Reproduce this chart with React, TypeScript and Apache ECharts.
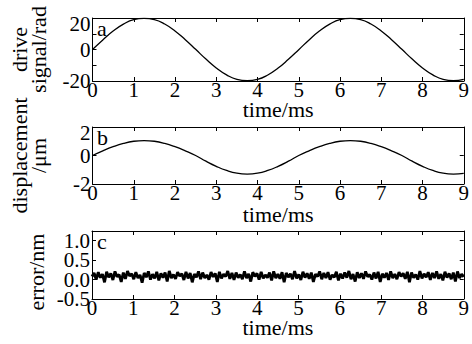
import React, { useEffect, useRef } from "react";
import * as echarts from "echarts";

const FONT = "'Liberation Serif', 'Times New Roman', serif";

// time samples (ms) for panels a and b
const timeMs = [
  0, 0.25, 0.5, 0.75, 1, 1.25, 1.5, 1.75, 2, 2.25, 2.5, 2.75, 3, 3.25, 3.5, 3.75, 4, 4.25, 4.5,
  4.75, 5, 5.25, 5.5, 5.75, 6, 6.25, 6.5, 6.75, 7, 7.25, 7.5, 7.75, 8, 8.25, 8.5, 8.75, 9,
];

// panel a: drive signal (rad)
const driveSignal = [
  0, 6.1, 11.7, 16.1, 19.0, 19.8, 19.0, 16.2, 11.8, 6.2, 0.1, -6.1, -11.7, -16.1, -19.0, -19.8,
  -19.0, -16.2, -11.8, -6.2, -0.1, 6.1, 11.7, 16.1, 19.0, 19.8, 19.0, 16.2, 11.8, 6.2, 0.1, -6.1,
  -11.7, -16.1, -19.0, -19.8, -19.0,
];

// panel b: displacement (um)
const displacement = [
  0, 0.33, 0.62, 0.85, 1.0, 1.05, 1.0, 0.85, 0.62, 0.33, 0, -0.4, -0.76, -1.05, -1.24, -1.3, -1.24,
  -1.05, -0.76, -0.4, 0, 0.33, 0.62, 0.85, 1.0, 1.05, 1.0, 0.85, 0.62, 0.33, 0, -0.4, -0.76, -1.05,
  -1.24, -1.3, -1.26,
];

// panel c: error (nm), dense readings across 0..9 ms
const errorNm = [
  0.08, 0.17, 0.0, 0.19, 0.05, 0.14, -0.07, 0.2, 0.06, 0.16, -0.01, 0.21, 0.07, 0.13, -0.06, 0.18,
  0.02, 0.22, 0.09, 0.15, 0.01, 0.19, 0.04, 0.12, -0.08, 0.17, 0.06, 0.21, 0.0, 0.14, 0.03, 0.2, -0.02,
  0.16, 0.05, 0.18, -0.05, 0.22, 0.04, 0.13, 0.02, 0.19, 0.09, 0.15, -0.01, 0.2, 0.03, 0.17, -0.07,
  0.14, 0.06, 0.21, 0.01, 0.18, 0.04, 0.12, 0.0, 0.19, 0.07, 0.16, -0.06, 0.2, 0.03, 0.14, 0.08, 0.22,
  0.02, 0.17, -0.01, 0.18, 0.05, 0.13, 0.01, 0.21, 0.04, 0.15, -0.05, 0.19, 0.08, 0.16, 0.0, 0.2,
  0.03, 0.12, 0.05, 0.18, -0.02, 0.21, 0.04, 0.14, 0.02, 0.19, -0.07, 0.17, 0.06, 0.15, 0.01, 0.22, 0.03,
  0.13, -0.01, 0.2, 0.05, 0.16, 0.02, 0.18, -0.06, 0.14, 0.08, 0.21, 0.01, 0.17, 0.04, 0.19, 0.0,
  0.12, 0.06, 0.2, -0.02, 0.15, 0.03, 0.18, 0.05, 0.22, 0.01, 0.14, -0.05, 0.19, 0.04, 0.16, 0.02, 0.21,
  0.07, 0.13, 0.0, 0.18, 0.03, 0.2, -0.06, 0.15, 0.05, 0.17, -0.01, 0.21, 0.04, 0.14, 0.01, 0.19,
  0.08, 0.16, 0.02, 0.2, -0.07, 0.18, 0.05, 0.13, 0.0, 0.22, 0.03, 0.15, 0.06, 0.19, -0.01, 0.17,
  0.04, 0.21, 0.02, 0.14, -0.02, 0.2, 0.05, 0.16, 0.01, 0.18, -0.05, 0.21, 0.04, 0.14, 0.07,
];

const yLabelsA = [-20, 0, 20];
const yLabelsB = [-2, 0, 2];
// panel c labels are split over two label layers so neighbours never collide
const yLabelsC1 = [-0.5, 0.5];
const yLabelsC2 = [0, 1.0];

const panels = [
  {
    letter: "a", top: 18, height: 63, min: -20, max: 20, interval: 10, labelSets: [yLabelsA],
    topLabel: 20, digits: 0, name: "drive\nsignal/rad", nameGap: 45, namePad: [0, 0, 0, 0], xNameGap: 20,
  },
  {
    letter: "b", top: 127, height: 57, min: -2, max: 2, interval: 2, labelSets: [yLabelsB],
    topLabel: 2, digits: 0, name: "displacement\n/\u03bcm", nameGap: 45, namePad: [0, 0, 0, 0], xNameGap: 22,
  },
  {
    letter: "c", top: 231, height: 68, min: -0.5, max: 1.25, interval: 0.5, labelSets: [yLabelsC1, yLabelsC2],
    topLabel: null, digits: 1, name: "error/nm", nameGap: 46, namePad: [0, 14, 0, 0], xNameGap: 20,
  },
];

const LEFT = 92;
const WIDTH = 376;
const FS = 22;
const TICK_FS = 21;

export default function App() {
  const ref = useRef<HTMLDivElement>(null);
  useEffect(() => {
    document.body.style.margin = "0";
    if (!ref.current) return;
    const chart = echarts.init(ref.current, null, { renderer: "svg" });
    const grid: any[] = [];
    const xAxis: any[] = [];
    const yAxis: any[] = [];
    const graphic: any[] = [];
    const seriesAxes: { x: number; y: number }[] = [];
    panels.forEach((p, i) => {
      grid.push({ left: LEFT, top: p.top, width: WIDTH, height: p.height, containLabel: false });
      const line = { show: true, onZero: false, lineStyle: { color: "#000", width: 1 } };
      const tick = { show: true, inside: true, length: 4, lineStyle: { color: "#000", width: 1 } };
      const xi = xAxis.length;
      xAxis.push({
        type: "value", gridIndex: i, min: 0, max: 9, interval: 1, position: "bottom",
        axisLine: line, axisTick: tick, splitLine: { show: false },
        axisLabel: {
          color: "#000", fontFamily: FONT, fontSize: TICK_FS, margin: 0, lineHeight: 18,
          showMinLabel: true, showMaxLabel: true, hideOverlap: false,
        },
        name: "time/ms", nameLocation: "middle", nameGap: p.xNameGap, nameMoveOverlap: false,
        nameTextStyle: { color: "#000", fontFamily: FONT, fontSize: FS, lineHeight: 16 },
      });
      xAxis.push({
        type: "value", gridIndex: i, min: 0, max: 9, interval: 1, position: "top",
        axisLine: line, axisTick: tick, splitLine: { show: false }, axisLabel: { show: false },
      });
      const yi = yAxis.length;
      p.labelSets.forEach((labels, li) => {
        const first = li === 0;
        yAxis.push({
          type: "value", gridIndex: i, min: p.min, max: p.max, interval: p.interval, position: "left",
          axisLine: first ? line : { show: false, onZero: false },
          axisTick: first ? tick : { show: false },
          splitLine: { show: false },
          axisLabel: {
            color: "#000", fontFamily: FONT, fontSize: TICK_FS, margin: 2, lineHeight: 18,
            showMinLabel: true, showMaxLabel: p.topLabel !== null, hideOverlap: false,
            formatter: (v: number) => {
              const hit = labels.find((l) => Math.abs(l - v) < 1e-9);
              if (hit === undefined) return "";
              const s = hit.toFixed(p.digits);
              return p.topLabel !== null && Math.abs(hit - p.topLabel) < 1e-9 ? "{t|" + s + "}" : s;
            },
            rich: {
              t: { fontFamily: FONT, fontSize: TICK_FS, color: "#000", lineHeight: 18, padding: [12, 0, 0, 0] },
            },
          },
          name: first ? p.name : "", nameLocation: "middle", nameRotate: 90, nameGap: p.nameGap,
          nameMoveOverlap: false,
          nameTextStyle: { color: "#000", fontFamily: FONT, fontSize: FS, lineHeight: 19, padding: p.namePad },
        });
      });
      yAxis.push({
        type: "value", gridIndex: i, min: p.min, max: p.max, interval: p.interval, position: "right",
        axisLine: line, axisTick: tick, splitLine: { show: false }, axisLabel: { show: false },
      });
      seriesAxes.push({ x: xi, y: yi });
      graphic.push({
        type: "text", left: LEFT + 5, top: p.top - 1,
        style: { text: p.letter, font: `${FS}px ${FONT}`, fill: "#000" },
      });
    });
    const series: any[] = [
      {
        type: "line", xAxisIndex: seriesAxes[0].x, yAxisIndex: seriesAxes[0].y, symbol: "none", smooth: true,
        lineStyle: { color: "#000", width: 1.3 },
        data: timeMs.map((t, k) => [t, driveSignal[k]]),
      },
      {
        type: "line", xAxisIndex: seriesAxes[1].x, yAxisIndex: seriesAxes[1].y, symbol: "none", smooth: true,
        lineStyle: { color: "#000", width: 1.3 },
        data: timeMs.map((t, k) => [t, displacement[k]]),
      },
      {
        type: "line", xAxisIndex: seriesAxes[2].x, yAxisIndex: seriesAxes[2].y, symbol: "none",
        lineStyle: { color: "#000", width: 2.8 },
        data: errorNm.map((v, k) => [(k * 9) / (errorNm.length - 1), v]),
      },
    ];
    chart.setOption({
      animation: false,
      backgroundColor: "#fff",
      grid, xAxis, yAxis, series, graphic,
    });
    return () => chart.dispose();
  }, []);
  return <div ref={ref} style={{ width: 472, height: 344 }} />;
}
